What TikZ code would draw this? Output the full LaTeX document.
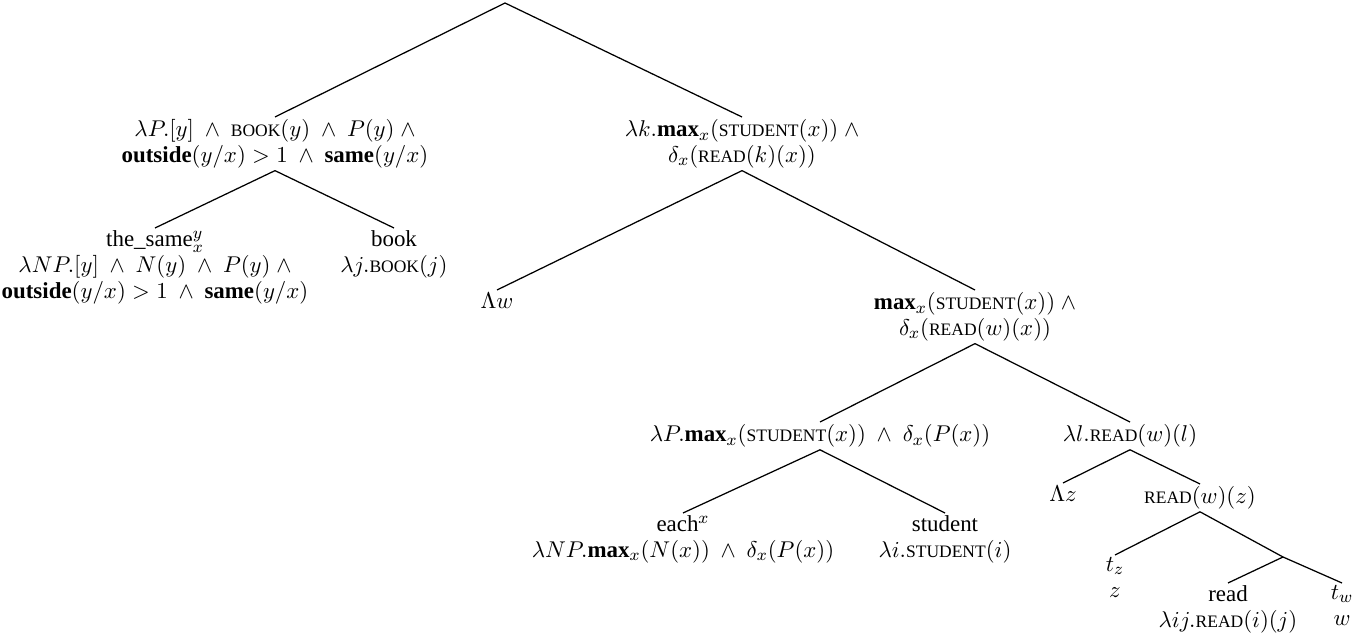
\documentclass[tikz,border=0pt]{standalone}
\usepackage[no-math]{fontspec}
\setmainfont{Liberation Serif}
\newcommand\SC[1]{\mbox{\fontsize{8.4pt}{10pt}\selectfont #1}}
\newcommand\w{\ \wedge\ {}}
\begin{document}
\begin{tikzpicture}[x=0.48pt,y=-0.48pt,
  lbl/.style={anchor=north, align=center, inner sep=1pt, font=\fontsize{11pt}{12.4pt}\selectfont},
  edge/.style={draw, line width=0.6pt}]
\useasboundingbox (0,0) rectangle (1370,637);
\coordinate (root) at (505,3);
\node[lbl] (n1) at (275,117) {$\lambda P.[y]\w\SC{BOOK}(y)\w P(y)\ \wedge$\\ \textbf{outside}$(y/x)>1\w$\textbf{same}$(y/x)$};
\node[lbl] (n2) at (742,117) {$\lambda k.\textbf{max}_x(\SC{STUDENT}(x))\ \wedge$\\ $\delta_x(\SC{READ}(k)(x))$};
\node[lbl] (same) at (155,228) {the\_same$^y_x$\\ $\lambda NP.[y]\w N(y)\w P(y)\ \wedge$\\ \textbf{outside}$(y/x)>1\w$\textbf{same}$(y/x)$};
\node[lbl] (book) at (394,228) {book\\ $\lambda j.\SC{BOOK}(j)$};
\node[lbl] (Lw) at (497,290) {$\Lambda w$};
\node[lbl] (mx) at (975,290) {\textbf{max}$_x(\SC{STUDENT}(x))\ \wedge$\\ $\delta_x(\SC{READ}(w)(x))$};
\node[lbl] (lP) at (820,422) {$\lambda P.\textbf{max}_x(\SC{STUDENT}(x))\w\delta_x(P(x))$};
\node[lbl] (ll) at (1130,422) {$\lambda l.\SC{READ}(w)(l)$};
\node[lbl] (each) at (683,513) {each$^x$\\ $\lambda NP.\textbf{max}_x(N(x))\w\delta_x(P(x))$};
\node[lbl] (stu) at (945,513) {student\\ $\lambda i.\SC{STUDENT}(i)$};
\node[lbl] (Lz) at (1063,483) {$\Lambda z$};
\node[lbl] (rwz) at (1200,484) {$\SC{READ}(w)(z)$};
\node[lbl] (tz) at (1115,555) {$t_z$\\ $z$};
\coordinate (mid) at (1283,557);
\node[lbl] (read) at (1228,583) {read\\ $\lambda ij.\SC{READ}(i)(j)$};
\node[lbl] (tw) at (1342,583) {$t_w$\\ $w$};
\draw[edge] (root) -- (n1.north);
\draw[edge] (root) -- (n2.north);
\draw[edge] (n1.south) -- (same.north);
\draw[edge] (n1.south) -- (book.north);
\draw[edge] (n2.south) -- (Lw.north);
\draw[edge] (n2.south) -- (mx.north);
\draw[edge] (mx.south) -- (lP.north);
\draw[edge] (mx.south) -- (ll.north);
\draw[edge] (lP.south) -- (each.north);
\draw[edge] (lP.south) -- (stu.north);
\draw[edge] (ll.south) -- (Lz.north);
\draw[edge] (ll.south) -- (rwz.north);
\draw[edge] (rwz.south) -- (tz.north);
\draw[edge] (rwz.south) -- (mid);
\draw[edge] (mid) -- (read.north);
\draw[edge] (mid) -- (tw.north);
\end{tikzpicture}
\end{document}
